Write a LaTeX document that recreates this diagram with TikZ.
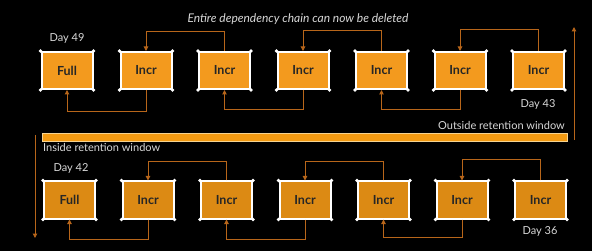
\documentclass[tikz,border=0pt]{standalone}
\usepackage{fontspec}
\setmainfont{Lato}
\usetikzlibrary{arrows.meta}
\definecolor{boxA}{HTML}{F39A1E}
\definecolor{boxB}{HTML}{DC8A14}
\definecolor{conn}{HTML}{B8661A}
\definecolor{lbl}{HTML}{D8D8D8}
\definecolor{barA}{HTML}{F39A12}
\definecolor{barE}{HTML}{F6D391}
\begin{document}
\begin{tikzpicture}[x=1pt,y=-1pt,
  bk/.style={draw=white,line width=2pt,minimum width=51pt,minimum height=37pt,inner sep=0pt,font=\fontsize{12.5}{14}\selectfont\bfseries,text=black!85},
  topbox/.style={bk,fill=boxA},
  botbox/.style={bk,fill=boxB},
  connline/.style={draw=conn,line width=1pt,-{Triangle[length=4.5pt,width=4.5pt]}},
  lab/.style={text=lbl,font=\fontsize{11}{13}\selectfont,inner sep=0pt},
  dot/.style={fill=white,circle,inner sep=0pt,minimum size=3.6pt}]
\useasboundingbox (0,0) rectangle (592,251);
\fill[black] (0,0) rectangle (592,251);
% top row
\foreach \i/\x/\t in {1/67/Full,2/146/Incr,3/224.5/Incr,4/303/Incr,5/381.5/Incr,6/460/Incr,7/538.5/Incr}{
  \node[topbox] (t\i) at (\x,70.5) {\t};
  \foreach \a in {north west,north east,south west,south east} \node[dot] at (t\i.\a) {};
}
% bottom row
\foreach \i/\x/\t in {1/69.5/Full,2/148/Incr,3/226.5/Incr,4/305/Incr,5/383.5/Incr,6/462/Incr,7/540.5/Incr}{
  \node[botbox] (b\i) at (\x,200) {\t};
  \foreach \a in {north west,north east,south west,south east} \node[dot] at (b\i.\a) {};
}
% top connectors
\draw[connline] (t2.south) -- ++(0,22) -| (t1.south);
\draw[connline] (t3.north) -- ++(0,-19) -| (t2.north);
\draw[connline] (t4.south) -- ++(0,20) -| (t3.south);
\draw[connline] (t5.north) -- ++(0,-20) -| (t4.north);
\draw[connline] (t6.south) -- ++(0,20) -| (t5.south);
\draw[connline] (t7.north) -- ++(0,-21) -| (t6.north);
% bottom connectors
\draw[connline] (b2.south) -- ++(0,20) -| (b1.south);
\draw[connline] (b3.north) -- ++(0,-19) -| (b2.north);
\draw[connline] (b4.south) -- ++(0,20) -| (b3.south);
\draw[connline] (b5.north) -- ++(0,-19) -| (b4.north);
\draw[connline] (b6.south) -- ++(0,18) -| (b5.south);
\draw[connline] (b7.north) -- ++(0,-21) -| (b6.north);
% bar
\node[draw=barE,fill=barA,line width=0.8pt,minimum width=525pt,minimum height=8pt,inner sep=0pt] (bar) at (304.5,137) {};
% vertical arrows
\coordinate (r0) at (574,140);
\coordinate (r1) at (574,27);
\coordinate (l0) at (35,135);
\coordinate (l1) at (35,238);
\draw[connline] (r0) -- (r1);
\draw[connline] (l0) -- (l1);
% labels
\node[lab,font=\fontsize{12}{14}\selectfont\itshape] (title) at (298,19) {Entire dependency chain can now be deleted};
\node[lab] (d49) at (67,38) {Day 49};
\node[lab] (d43) at (538,104) {Day 43};
\node[lab,anchor=east] (out) at (565,125) {Outside retention window};
\node[lab,anchor=west] (ins) at (43,147) {Inside retention window};
\node[lab] (d42) at (71,168) {Day 42};
\node[lab] (d36) at (540,231) {Day 36};
\end{tikzpicture}
\end{document}
